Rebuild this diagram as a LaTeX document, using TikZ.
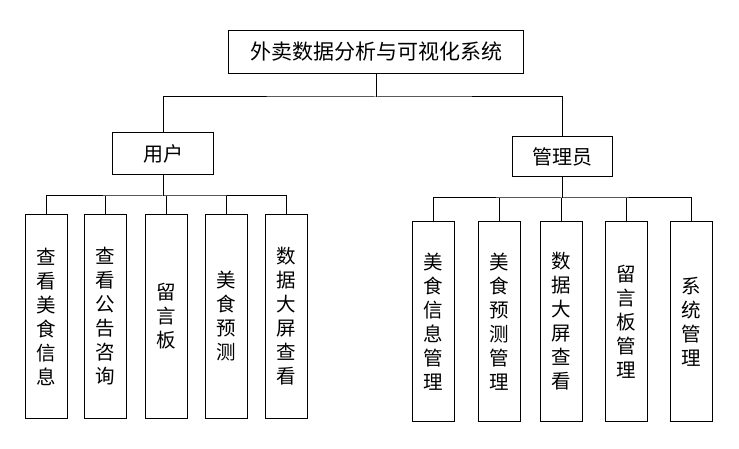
\documentclass[tikz,border=0pt]{standalone}
\usepackage{fontspec}
\setmainfont{Noto Sans CJK SC}
\begin{document}
\begin{tikzpicture}[x=1pt,y=-1pt,
  box/.style={draw,line width=1pt,inner sep=0pt,font=\fontsize{20}{22}\selectfont},
  vbox/.style={box,minimum width=42pt,align=center,font=\fontsize{19.5}{24}\selectfont},
  ln/.style={line width=1pt}]
\useasboundingbox (0,0) rectangle (739,449);
\node[box,minimum width=295pt,minimum height=43pt,font=\fontsize{21}{22}\selectfont] (root) at (376,52) {外卖数据分析与可视化系统};
\node[box,minimum width=101pt,minimum height=42pt] (u) at (163,154) {用户};
\node[box,minimum width=100pt,minimum height=40pt] (a) at (562,157) {管理员};
\foreach \n/\x/\t in {u1/46/查\\看\\美\\食\\信\\息, u2/105/查\\看\\公\\告\\咨\\询, u3/166/留\\言\\板, u4/226/美\\食\\预\\测, u5/286/数\\据\\大\\屏\\查\\看}
  \node[vbox,minimum height=203pt] (\n) at (\x,316.5) {\t};
\foreach \n/\x/\t in {a1/433/美\\食\\信\\息\\管\\理, a2/499/美\\食\\预\\测\\管\\理, a3/561/数\\据\\大\\屏\\查\\看, a4/626/留\\言\\板\\管\\理, a5/691/系\\统\\管\\理}
  \node[vbox,minimum height=199pt] (\n) at (\x,321.5) {\t};
\coordinate (rj) at (376,97);
\draw[ln] (root.south) -- (rj);
\draw[ln] (u.north) |- (rj) -| (a.north);
\coordinate (uj) at (163,196);
\draw[ln] (u.south) -- (uj);
\draw[ln] (u1.north) |- (uj) -| (u5.north);
\foreach \n in {u2,u3,u4} \draw[ln] (\n.north) -- (\n.north |- uj);
\coordinate (aj) at (562,198);
\draw[ln] (a.south) -- (aj);
\draw[ln] (a1.north) |- (aj) -| (a5.north);
\foreach \n in {a2,a3,a4} \draw[ln] (\n.north) -- (\n.north |- aj);
\end{tikzpicture}
\end{document}
